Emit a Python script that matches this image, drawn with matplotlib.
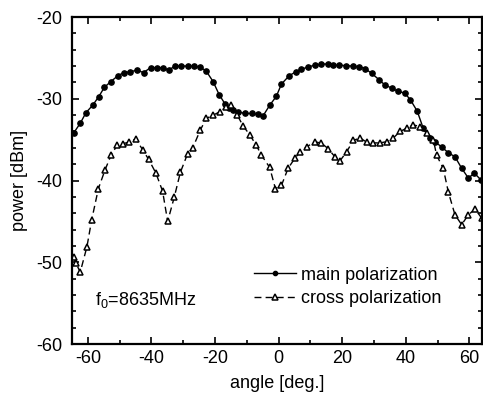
import matplotlib
matplotlib.use("Agg")
import matplotlib.pyplot as plt
from matplotlib.ticker import MultipleLocator

plt.rcParams['font.family'] = ['Liberation Sans', 'DejaVu Sans']
plt.rcParams['mathtext.default'] = 'regular'
plt.rcParams['axes.unicode_minus'] = False

# main polarization (angle in deg, power in dBm)
main_ang = [-64.5, -62.4, -60.6, -58.5, -56.6, -54.8, -52.8, -50.6, -48.7, -46.6,
            -44.6, -42.5, -40.3, -38.3, -36.5, -34.6, -32.6, -30.7, -28.6, -26.5,
            -24.6, -22.8, -20.6, -18.7, -16.9, -15.6, -14.3, -12.7, -10.6, -8.5,
            -6.5, -4.9, -2.8, -0.7, 0.9, 3.3, 5.4, 7.2, 9.3, 11.4,
            13.5, 15.4, 17.2, 19.1, 21.2, 23.3, 25.4, 27.2, 29.3, 31.7,
            33.4, 35.6, 37.6, 39.7, 41.5, 43.6, 45.5, 47.6, 49.2, 51.3,
            53.4, 55.5, 57.6, 59.7, 61.6, 63.6]
main_pow = [-34.2, -33.0, -31.7, -30.8, -29.75, -28.6, -27.9, -27.2, -26.8, -26.7,
            -26.5, -26.8, -26.2, -26.2, -26.2, -26.5, -26.0, -26.0, -26.0, -26.0,
            -26.15, -26.6, -27.9, -29.5, -30.6, -31.1, -31.4, -31.6, -31.8, -31.8,
            -31.9, -32.1, -30.8, -29.7, -28.2, -27.2, -26.7, -26.4, -26.1, -25.9,
            -25.75, -25.75, -25.9, -25.9, -25.95, -26.0, -26.1, -26.3, -26.9, -27.7,
            -28.3, -28.7, -29.1, -29.3, -30.15, -31.5, -33.6, -34.8, -35.25, -35.9,
            -36.6, -37.1, -38.5, -39.7, -39.1, -39.9]

# cross polarization
cross_ang = [-64.5, -63.8, -62.4, -60.3, -58.8, -56.7, -54.6, -52.7, -50.8, -49.0,
             -47.0, -44.9, -42.7, -40.9, -38.6, -36.5, -34.9, -32.8, -30.9, -28.6,
             -27.0, -24.6, -22.7, -20.6, -18.5, -16.5, -15.0, -13.0, -11.2, -9.1,
             -7.0, -5.4, -2.8, -1.0, 0.9, 3.0, 5.1, 6.7, 8.8, 11.4,
             13.5, 15.6, 17.7, 19.3, 21.4, 23.5, 25.6, 27.7, 29.8, 31.9,
             34.0, 36.1, 38.2, 40.3, 42.4, 44.5, 46.6, 48.7, 49.7, 51.8,
             53.4, 55.5, 57.6, 59.7, 61.8, 63.9]
cross_pow = [-49.3, -50.1, -51.2, -48.1, -44.8, -41.0, -38.7, -36.9, -35.7, -35.5,
             -35.3, -34.9, -36.3, -37.4, -39.1, -41.3, -45.0, -42.0, -39.0, -36.7,
             -36.0, -33.8, -32.4, -32.0, -31.6, -31.0, -30.8, -32.0, -33.3, -34.4,
             -35.7, -36.9, -38.4, -41.0, -40.6, -38.5, -37.3, -36.5, -35.9, -35.25,
             -35.45, -36.1, -37.1, -37.6, -36.5, -35.1, -34.8, -35.3, -35.4, -35.4,
             -35.25, -34.8, -34.0, -33.6, -33.2, -33.4, -34.2, -35.0, -36.9, -38.5,
             -41.4, -44.2, -45.4, -44.2, -43.5, -44.6]

fig = plt.figure(figsize=(4.83, 3.99), dpi=100)
ax = fig.add_axes([72/483, 1-344/399, 410/483, 327/399])

ax.plot(main_ang, main_pow, '-', color='black', lw=1.0, marker='o', ms=3.8,
        mfc='black', mec='black', label='main polarization')
ax.plot(cross_ang, cross_pow, '--', color='black', lw=1.0, dashes=(5, 3),
        marker='^', ms=4.8, mfc='white', mec='black', mew=1.1,
        label='cross polarization')

ax.set_xlim(-65, 64)
ax.set_ylim(-60, -20)
ax.xaxis.set_major_locator(MultipleLocator(20))
ax.xaxis.set_minor_locator(MultipleLocator(10))
ax.yaxis.set_major_locator(MultipleLocator(10))
ax.yaxis.set_minor_locator(MultipleLocator(2))
ax.tick_params(which='both', direction='in', top=True, right=True, width=1.2)
ax.tick_params(which='major', length=5, labelsize=13)
ax.tick_params(which='minor', length=3)
ax.tick_params(axis='x', pad=4)
ax.tick_params(axis='y', pad=7)
for s in ax.spines.values():
    s.set_linewidth(1.6)

ax.set_xlabel('angle [deg.]', fontsize=13, labelpad=6)
ax.set_ylabel('power [dBm]', fontsize=13, labelpad=6)

ax.text(0.056, 0.135, 'f$_0$=8635MHz', transform=ax.transAxes, fontsize=13,
        va='center', ha='left')

ax.legend(loc='center left', bbox_to_anchor=(0.445, 0.175), frameon=False,
          fontsize=13, handlelength=2.3, handletextpad=0.3, labelspacing=0.35,
          borderpad=0, borderaxespad=0, markerscale=0.8)

fig.savefig('out.png', dpi=100)
